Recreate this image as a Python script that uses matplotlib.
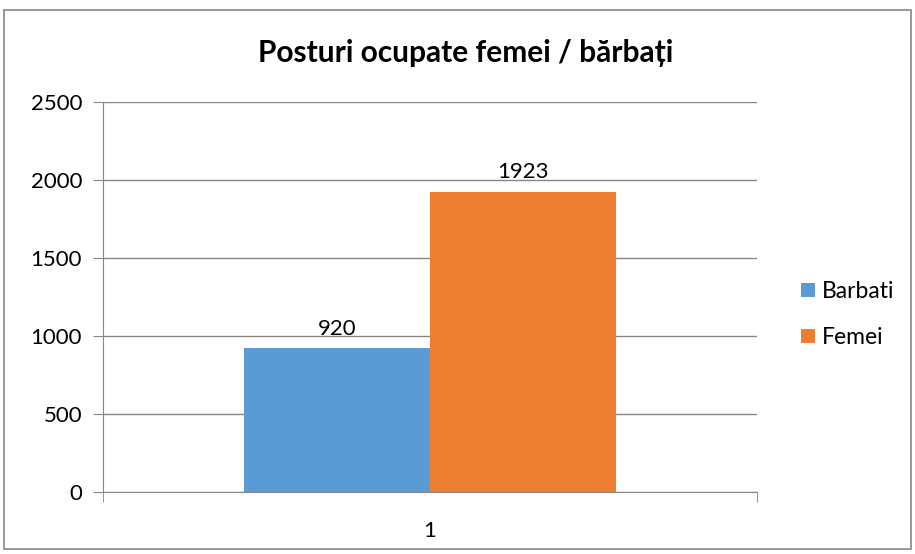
import matplotlib.pyplot as plt
from matplotlib.patches import Rectangle

plt.rcParams['font.family'] = ['Lato', 'DejaVu Sans']

series = ["Barbati", "Femei"]
values = [920, 1923]
colors = ["#5B9BD5", "#ED7D31"]
category = "1"

fig = plt.figure(figsize=(9.15, 5.54), dpi=100)
fig.patches.append(Rectangle((0.004, 0.009), 0.992, 0.973, transform=fig.transFigure,
                             fill=False, edgecolor="#868686", linewidth=1.2))
ax = fig.add_axes([0.1126, 0.1119, 0.7147, 0.704])

w = 0.284
offsets = [-w / 2, w / 2]
for name, v, c, off in zip(series, values, colors, offsets):
    b = ax.bar(1 + off, v, width=w, color=c, label=name, zorder=3)
    ax.bar_label(b, labels=[str(v)], padding=7, fontsize=16)

ax.set_xlim(0.5, 1.5)
ax.set_ylim(0, 2500)
ax.set_yticks(range(0, 2501, 500))
ax.set_xticks([1])
ax.set_xticklabels([category])
ax.set_xticks([0.5, 1.5], minor=True)
ax.tick_params(axis="x", which="major", length=0, pad=21, labelsize=16)
ax.tick_params(axis="x", which="minor", length=7, color="#868686")
ax.tick_params(axis="y", length=7, color="#868686", labelsize=16, pad=8)
ax.grid(axis="y", color="#868686", linewidth=1, zorder=0)
for s in ["top", "right"]:
    ax.spines[s].set_visible(False)
ax.spines["left"].set_color("#868686")
ax.spines["bottom"].set_color("#868686")

fig.text(0.509, 0.888, "Posturi ocupate femei / bărbați", fontsize=21.5,
         fontweight="bold", ha="center", va="baseline")

fig.legend(loc="center left", bbox_to_anchor=(0.853, 0.432), frameon=False,
           fontsize=16.5, handlelength=0.6, handleheight=0.6, handletextpad=0.3,
           labelspacing=1.1)

fig.savefig("out.png", dpi=100)
